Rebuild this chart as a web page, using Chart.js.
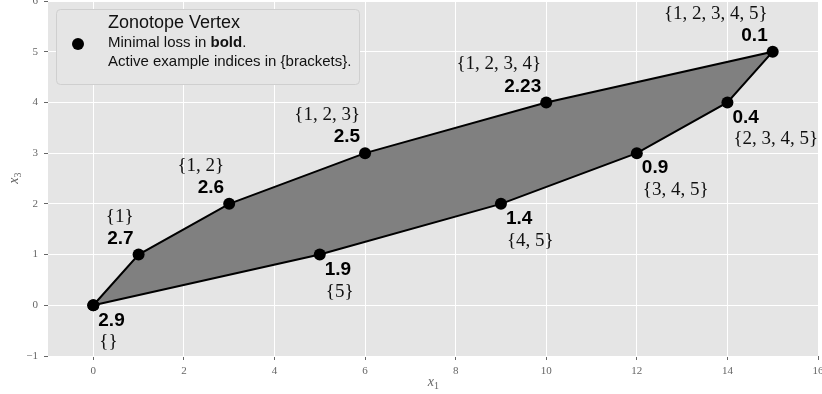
<!DOCTYPE html>
<html>
<head>
<meta charset="utf-8">
<script src="https://cdn.jsdelivr.net/npm/chart.js@4.4.1/dist/chart.umd.min.js"></script>
<style>
html,body{margin:0;padding:0;background:#fff;}
#wrap{position:relative;width:822px;height:394px;}
</style>
</head>
<body>
<div id="wrap"><canvas id="c" width="822" height="394"></canvas></div>
<script>
// ---- data ----
const vertexX = [0, 1, 3, 6, 10, 15, 14, 12, 9, 5];
const vertexY = [0, 1, 2, 3, 4, 5, 4, 3, 2, 1];
const minimalLoss = ['2.9', '2.7', '2.6', '2.5', '2.23', '0.1', '0.4', '0.9', '1.4', '1.9'];
const activeSets = ['{}', '{1}', '{1, 2}', '{1, 2, 3}', '{1, 2, 3, 4}', '{1, 2, 3, 4, 5}',
                    '{2, 3, 4, 5}', '{3, 4, 5}', '{4, 5}', '{5}'];
const xTicks = [0, 2, 4, 6, 8, 10, 12, 14, 16];
const yTicks = [-1, 0, 1, 2, 3, 4, 5, 6];
const legendTitle = 'Zonotope Vertex';
const legendLine1 = ['Minimal loss in ', 'bold', '.'];
const legendLine2 = 'Active example indices in {brackets}.';

// ---- styling (label placement) ----
const labelAbove = [false, true, true, true, true, true, false, false, false, false];

const pts = vertexX.map((x, i) => ({x: x, y: vertexY[i]}));
const outline = pts.concat([pts[0]]);

const bgPlugin = {
  id: 'bg',
  beforeDraw(chart) {
    const {ctx, chartArea: a} = chart;
    ctx.save();
    ctx.fillStyle = '#e5e5e5';
    ctx.fillRect(a.left, a.top, a.right - a.left, a.bottom - a.top);
    ctx.restore();
  }
};

const polyPlugin = {
  id: 'poly',
  beforeDatasetsDraw(chart) {
    const {ctx} = chart;
    const xs = chart.scales.x, ys = chart.scales.y;
    ctx.save();
    ctx.beginPath();
    pts.forEach((p, i) => {
      const px = xs.getPixelForValue(p.x), py = ys.getPixelForValue(p.y);
      if (i === 0) ctx.moveTo(px, py); else ctx.lineTo(px, py);
    });
    ctx.closePath();
    ctx.fillStyle = '#808080';
    ctx.fill();
    ctx.restore();
  }
};

const labelPlugin = {
  id: 'labels',
  afterDatasetsDraw(chart) {
    const {ctx} = chart;
    const xs = chart.scales.x, ys = chart.scales.y;
    ctx.save();
    ctx.textBaseline = 'middle';
    pts.forEach((p, i) => {
      const px = xs.getPixelForValue(p.x), py = ys.getPixelForValue(p.y);
      ctx.fillStyle = '#000';
      if (labelAbove[i]) {
        ctx.textAlign = 'right';
        ctx.font = 'bold 19px "Liberation Sans", Arial, sans-serif';
        ctx.fillText(minimalLoss[i], px - 5, py - 16);
        ctx.fillStyle = '#111';
        ctx.font = '19px "Liberation Serif", "Times New Roman", serif';
        ctx.fillText(activeSets[i], px - 5, py - 38);
      } else {
        ctx.textAlign = 'left';
        ctx.font = 'bold 19px "Liberation Sans", Arial, sans-serif';
        ctx.fillText(minimalLoss[i], px + 5, py + 15);
        ctx.fillStyle = '#111';
        ctx.font = '19px "Liberation Serif", "Times New Roman", serif';
        ctx.fillText(activeSets[i], px + 6, py + 37);
      }
    });
    ctx.restore();
  }
};

const legendPlugin = {
  id: 'customLegend',
  afterDraw(chart) {
    const {ctx} = chart;
    ctx.save();
    const x0 = 56.5, y0 = 9.5, w = 303, h = 75, r = 4;
    ctx.beginPath();
    ctx.moveTo(x0 + r, y0);
    ctx.arcTo(x0 + w, y0, x0 + w, y0 + h, r);
    ctx.arcTo(x0 + w, y0 + h, x0, y0 + h, r);
    ctx.arcTo(x0, y0 + h, x0, y0, r);
    ctx.arcTo(x0, y0, x0 + w, y0, r);
    ctx.closePath();
    ctx.fillStyle = '#e5e5e5';
    ctx.fill();
    ctx.strokeStyle = '#cfcfcf';
    ctx.lineWidth = 1;
    ctx.stroke();
    // marker
    ctx.beginPath();
    ctx.arc(78, 44, 6, 0, Math.PI * 2);
    ctx.fillStyle = '#000';
    ctx.fill();
    // texts
    ctx.textAlign = 'left';
    ctx.textBaseline = 'middle';
    ctx.fillStyle = '#111';
    ctx.font = '18px "Liberation Sans", Arial, sans-serif';
    ctx.fillText(legendTitle, 108, 23);
    ctx.font = '15px "Liberation Sans", Arial, sans-serif';
    let x = 108;
    ctx.fillText(legendLine1[0], x, 43);
    x += ctx.measureText(legendLine1[0]).width;
    ctx.font = 'bold 15px "Liberation Sans", Arial, sans-serif';
    ctx.fillText(legendLine1[1], x, 43);
    x += ctx.measureText(legendLine1[1]).width;
    ctx.font = '15px "Liberation Sans", Arial, sans-serif';
    ctx.fillText(legendLine1[2], x, 43);
    ctx.fillText(legendLine2, 108, 62);
    ctx.restore();
  }
};

const axisTitlePlugin = {
  id: 'axisTitles',
  afterDraw(chart) {
    const {ctx, chartArea: a} = chart;
    ctx.save();
    ctx.fillStyle = '#666';
    ctx.textBaseline = 'middle';
    // x title
    const cx = (a.left + a.right) / 2;
    ctx.font = 'italic 14px "Liberation Serif", serif';
    ctx.textAlign = 'right';
    ctx.fillText('x', cx + 1, 382);
    ctx.font = '10px "Liberation Serif", serif';
    ctx.textAlign = 'left';
    ctx.fillText('1', cx + 1, 386);
    // y title
    const cy = (a.top + a.bottom) / 2;
    ctx.translate(14, cy);
    ctx.rotate(-Math.PI / 2);
    ctx.font = 'italic 14px "Liberation Serif", serif';
    ctx.textAlign = 'right';
    ctx.fillText('x', 1, 0);
    ctx.font = '10px "Liberation Serif", serif';
    ctx.textAlign = 'left';
    ctx.fillText('3', 1, 4);
    ctx.restore();
  }
};

new Chart(document.getElementById('c'), {
  type: 'scatter',
  data: {
    datasets: [{
      data: outline,
      showLine: true,
      borderColor: '#000',
      borderWidth: 2,
      backgroundColor: '#000',
      pointBackgroundColor: '#000',
      pointBorderColor: '#000',
      pointRadius: 6,
      pointBorderWidth: 0,
      fill: false,
      tension: 0,
      clip: false
    }]
  },
  options: {
    responsive: false,
    animation: false,
    events: [],
    layout: {autoPadding: false, padding: {top: 1, right: 4, left: 0, bottom: 0}},
    plugins: {legend: {display: false}, tooltip: {enabled: false}},
    scales: {
      x: {
        type: 'linear', min: -1, max: 16,
        afterBuildTicks: s => { s.ticks = xTicks.map(v => ({value: v})); },
        afterFit: s => { s.height = 38; s.paddingLeft = 0; s.paddingRight = 0; },
        grid: {color: '#ffffff', lineWidth: 1, tickColor: '#666', tickLength: 4, drawTicks: true},
        border: {display: false},
        ticks: {color: '#666', padding: 5, maxRotation: 0, font: {family: '"Liberation Serif", serif', size: 11},
                callback: v => String(v)}
      },
      y: {
        type: 'linear', min: -1, max: 6,
        afterBuildTicks: s => { s.ticks = yTicks.map(v => ({value: v})); },
        afterFit: s => { s.width = 48; s.paddingTop = 0; s.paddingBottom = 0; },
        grid: {color: '#ffffff', lineWidth: 1, tickColor: '#666', tickLength: 4, drawTicks: true},
        border: {display: false},
        ticks: {color: '#666', padding: 6, font: {family: '"Liberation Serif", serif', size: 11},
                callback: v => (v < 0 ? '\u2212' + Math.abs(v) : String(v))}
      }
    }
  },
  plugins: [bgPlugin, polyPlugin, labelPlugin, legendPlugin, axisTitlePlugin]
});
</script>
</body>
</html>
